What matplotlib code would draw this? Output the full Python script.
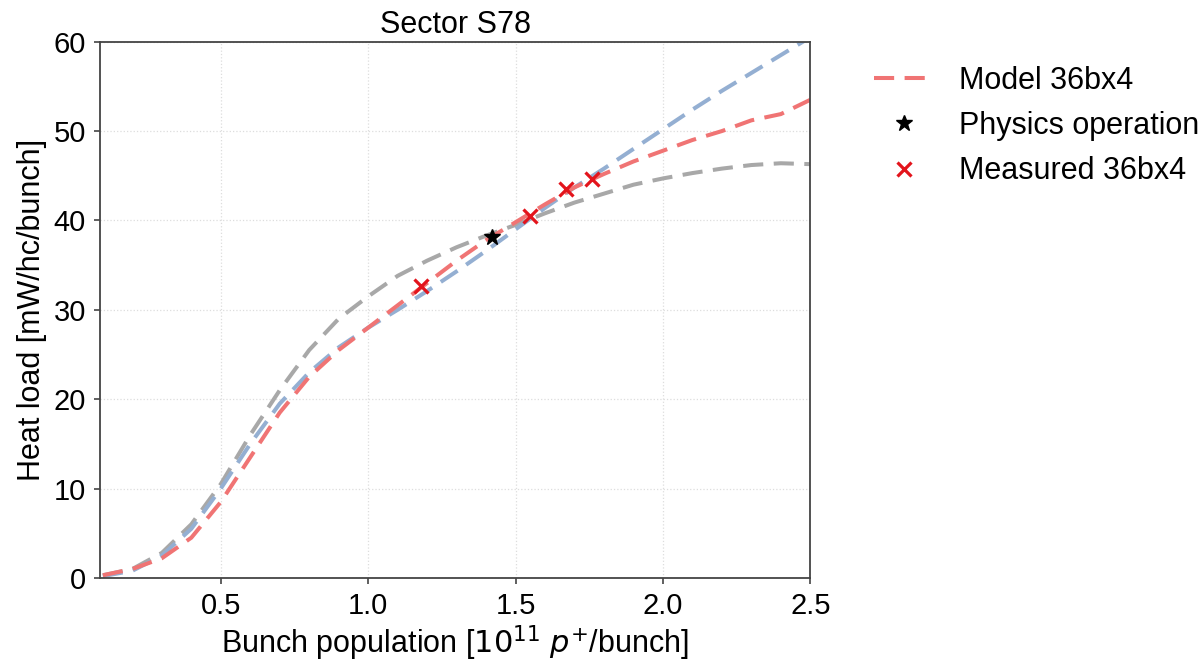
import matplotlib
matplotlib.use("Agg")
import matplotlib.pyplot as plt

plt.rcParams['font.family'] = ['Liberation Sans', 'DejaVu Sans']

x_model = [0.1, 0.2, 0.3, 0.4, 0.5, 0.6, 0.7, 0.8, 0.9, 1.0, 1.1, 1.2, 1.3,
           1.4, 1.5, 1.6, 1.7, 1.8, 1.9, 2.0, 2.1, 2.2, 2.3, 2.4, 2.5]
red_model = [0.3, 1.0, 2.2, 4.5, 8.5, 13.5, 18.5, 22.5, 25.5, 28.0, 30.5, 33.0,
             35.5, 37.8, 39.8, 41.8, 43.7, 45.2, 46.6, 47.8, 49.0, 50.0, 51.2,
             51.9, 53.5]
blue_model = [0.2, 0.8, 2.5, 5.5, 10.0, 15.0, 19.5, 23.0, 25.8, 28.0, 30.0, 32.1,
              34.3, 36.6, 39.0, 41.4, 43.7, 45.8, 48.0, 50.2, 52.4, 54.5, 56.5,
              58.5, 60.5]
gray_model = [0.3, 1.0, 2.8, 6.0, 10.5, 16.0, 21.0, 25.5, 29.0, 31.5, 33.8, 35.5,
              37.0, 38.3, 39.5, 40.8, 42.0, 43.0, 44.0, 44.7, 45.3, 45.8, 46.2,
              46.4, 46.3]
phys_x = [1.42]
phys_y = [38.2]
meas_x = [1.18, 1.55, 1.67, 1.76]
meas_y = [32.7, 40.5, 43.5, 44.6]

fig = plt.figure(figsize=(12.04, 6.62), dpi=100)
ax = fig.add_axes([0.083, 0.127, 0.590, 0.810])

dash = (5, 2.6)
ax.plot(x_model, gray_model, color='#a8a8a8', lw=2.9, dashes=dash)
ax.plot(x_model, blue_model, color='#94afd2', lw=2.9, dashes=dash)
ax.plot(x_model, red_model, color='#f07474', lw=2.9, dashes=dash, label='Model 36bx4')
ax.plot(phys_x, phys_y, linestyle='none', marker='*', color='black', ms=12,
        label='Physics operation')
ax.plot(meas_x, meas_y, linestyle='none', marker='x', color='#e3141c', ms=10,
        mew=2.3, label='Measured 36bx4')

ax.set_xlim(0.09, 2.5)
ax.set_ylim(0, 60)
ax.set_xticks([0.5, 1.0, 1.5, 2.0, 2.5])
ax.set_yticks([0, 10, 20, 30, 40, 50, 60])
ax.grid(True, color='#dddddd', linestyle=':', linewidth=0.9)
for s in ax.spines.values():
    s.set_color('#444444')
    s.set_linewidth(1.3)
ax.tick_params(axis='both', labelsize=21, colors='#444444', labelcolor='black',
               length=4, width=1.2)
ax.tick_params(axis='x', pad=6)
ax.tick_params(axis='y', pad=6)

ax.set_xlabel('Bunch population [$10^{11}$ $p^{+}$/bunch]', fontsize=22, labelpad=3)
ax.set_ylabel('Heat load [mW/hc/bunch]', fontsize=22, labelpad=5)
ax.set_title('Sector S78', fontsize=22, pad=6)

ax.legend(loc='upper left', bbox_to_anchor=(1.089, 0.955), frameon=False,
          fontsize=22, handlelength=2.0, handletextpad=0.8, labelspacing=0.5,
          borderaxespad=0, borderpad=0)

fig.savefig('out.png', dpi=100)
